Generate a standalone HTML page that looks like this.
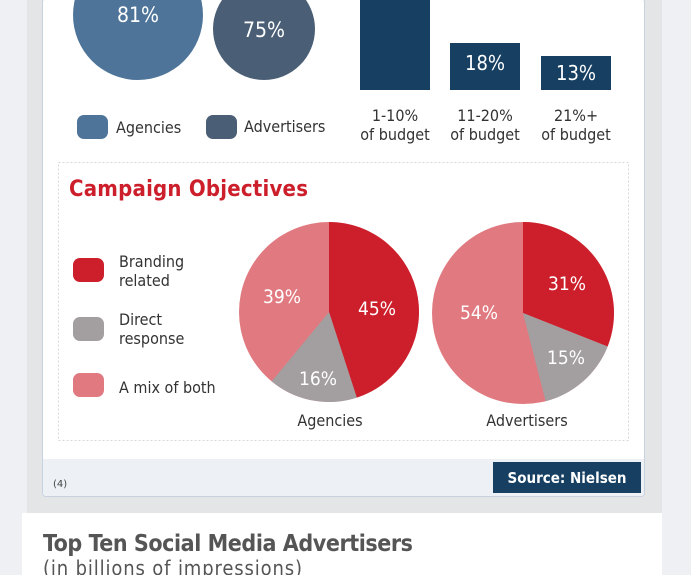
<!DOCTYPE html>
<html><head><meta charset="utf-8"><style>
body{margin:0;width:691px;height:575px;overflow:hidden;background:#eef0f3;font-family:"DejaVu Sans","Liberation Sans",sans-serif;position:relative}
.a{position:absolute}
</style></head><body>
<div class="a" style="left:27px;top:0;width:635px;height:513px;background:#e3e5e7"></div>
<div class="a" style="left:42px;top:-2px;width:601px;height:497px;background:#fff;border:1px solid #c8d2de;border-radius:4px;overflow:hidden">
  <div class="a" style="left:0;top:460px;width:601px;height:40px;background:#edf1f5"></div>
</div>
<svg class="a" style="left:0;top:0" width="691" height="575">
  <circle cx="138" cy="15" r="65" fill="#4e7599"/>
  <circle cx="264" cy="29" r="51" fill="#4a5f75"/>
  <text x="138" y="22" fill="#fff" font-size="21" text-anchor="middle" font-family="DejaVu Sans Condensed,DejaVu Sans,sans-serif">81%</text>
  <text x="264" y="37" fill="#fff" font-size="21" text-anchor="middle" font-family="DejaVu Sans Condensed,DejaVu Sans,sans-serif">75%</text>
  <rect x="77" y="115" width="31" height="24" rx="7" fill="#4e7599"/>
  <rect x="206" y="115" width="31" height="24" rx="7" fill="#4a5f75"/>
  <text x="116" y="133" font-size="16" fill="#333" font-family="DejaVu Sans Condensed,DejaVu Sans,sans-serif">Agencies</text>
  <text x="244" y="132" font-size="16" fill="#333" font-family="DejaVu Sans Condensed,DejaVu Sans,sans-serif">Advertisers</text>
  <rect x="360" y="-5" width="70" height="95" fill="#163f62"/>
  <rect x="450" y="43" width="70" height="47" fill="#163f62"/>
  <rect x="541" y="56" width="70" height="34" fill="#163f62"/>
  <text x="485" y="70" fill="#fff" font-size="20" text-anchor="middle" font-family="DejaVu Sans Condensed,DejaVu Sans,sans-serif">18%</text>
  <text x="576" y="80" fill="#fff" font-size="20" text-anchor="middle" font-family="DejaVu Sans Condensed,DejaVu Sans,sans-serif">13%</text>
  <g font-size="16" fill="#333" text-anchor="middle" font-family="DejaVu Sans Condensed,DejaVu Sans,sans-serif">
    <text x="395" y="121">1-10%</text><text x="395" y="140">of budget</text>
    <text x="485" y="121">11-20%</text><text x="485" y="140">of budget</text>
    <text x="576" y="121">21%+</text><text x="576" y="140">of budget</text>
  </g>
  <rect x="58.5" y="162.5" width="570" height="278" fill="none" stroke="#d8d8d8" stroke-dasharray="2,2"/>
  <text x="69" y="196" font-size="22" font-weight="bold" fill="#cc1f2b" font-family="DejaVu Sans Condensed,DejaVu Sans,sans-serif" textLength="239">Campaign Objectives</text>
  <rect x="73" y="258" width="31" height="24" rx="7" fill="#cc1f2b"/>
  <rect x="73" y="317" width="31" height="24" rx="7" fill="#a39e9f"/>
  <rect x="73" y="373" width="31" height="24" rx="7" fill="#e07a80"/>
  <g font-size="16" fill="#333" font-family="DejaVu Sans Condensed,DejaVu Sans,sans-serif">
    <text x="119" y="267">Branding</text><text x="119" y="286">related</text>
    <text x="119" y="325">Direct</text><text x="119" y="344">response</text>
    <text x="119" y="393">A mix of both</text>
  </g>
  <circle cx="329" cy="312" r="90" fill="#e07a80"/>
  <path d="M329 312 L329 222 A90 90 0 0 1 356.8 397.6Z" fill="#cc1f2b"/>
  <path d="M329 312 L356.8 397.6 A90 90 0 0 1 271.7 381.4Z" fill="#a39e9f"/>
  <circle cx="523" cy="313" r="91" fill="#e07a80"/>
  <path d="M523 313 L523 222 A91 91 0 0 1 607.6 346.5Z" fill="#cc1f2b"/>
  <path d="M523 313 L607.6 346.5 A91 91 0 0 1 545.6 401.2Z" fill="#a39e9f"/>
  <g fill="#fff" font-size="19" text-anchor="middle" font-family="DejaVu Sans Condensed,DejaVu Sans,sans-serif">
    <text x="377" y="315">45%</text><text x="282" y="303">39%</text><text x="318" y="385">16%</text>
    <text x="567" y="290">31%</text><text x="479" y="319">54%</text><text x="566" y="364">15%</text>
  </g>
  <text x="330" y="426" font-size="16" fill="#333" text-anchor="middle" font-family="DejaVu Sans Condensed,DejaVu Sans,sans-serif">Agencies</text>
  <text x="527" y="426" font-size="16" fill="#333" text-anchor="middle" font-family="DejaVu Sans Condensed,DejaVu Sans,sans-serif">Advertisers</text>
  <text x="53" y="487" font-size="10" fill="#444">(4)</text>
  <rect x="493" y="462" width="148" height="31" fill="#163f62"/>
  <text x="567" y="483" font-size="15" font-weight="bold" fill="#fff" text-anchor="middle" font-family="DejaVu Sans Condensed,DejaVu Sans,sans-serif">Source: Nielsen</text>
  <rect x="22" y="513" width="640" height="62" fill="#fff"/>
  <text x="43" y="551" font-size="23" font-weight="bold" fill="#555" font-family="DejaVu Sans Condensed,DejaVu Sans,sans-serif" textLength="370">Top Ten Social Media Advertisers</text>
  <text x="43" y="575" font-size="20" fill="#555" font-family="DejaVu Sans Condensed,DejaVu Sans,sans-serif" textLength="259">(in billions of impressions)</text>
</svg>
</body></html>
